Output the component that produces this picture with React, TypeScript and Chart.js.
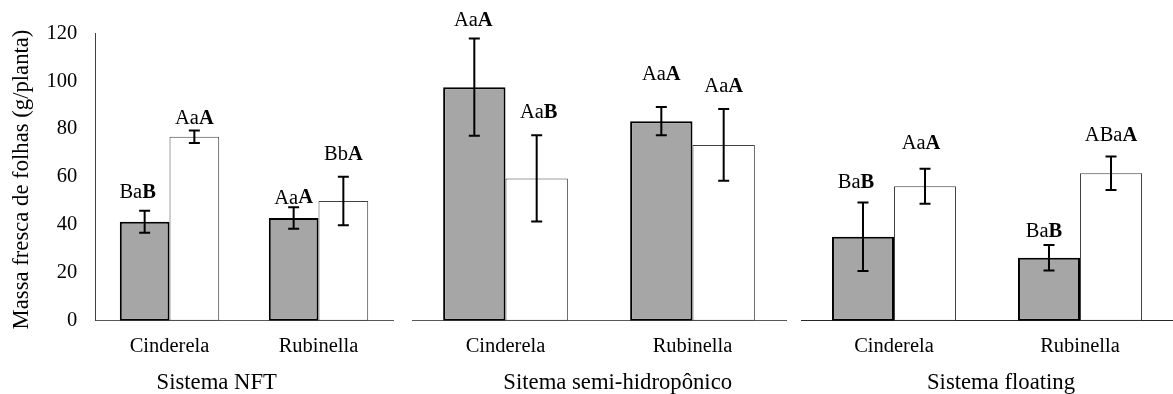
import { useEffect, useRef } from "react";
import { Chart, registerables } from "chart.js";

Chart.register(...registerables);

// Cultivars shown in every panel
const categories = ["Cinderela", "Rubinella"];
const yAxisTitle = "Massa fresca de folhas (g/planta)";
const yTicks = { min: 0, max: 120, step: 20 };

// Sistema NFT — leaf fresh mass (g/plant), mean and standard deviation
const nftTitle = "Sistema NFT";
const nftDark = [41.3, 42.9];
const nftDarkSd = [4.6, 4.5];
const nftLight = [76.8, 50.0];
const nftLightSd = [2.6, 10.1];
const nftDarkLetters = ["Ba|B", "Aa|A"];
const nftLightLetters = ["Aa|A", "Bb|A"];

// Semi-hydroponic system
const semiTitle = "Sitema semi-hidropônico";
const semiDark = [97.5, 83.3];
const semiDarkSd = [20.3, 5.9];
const semiLight = [59.4, 73.4];
const semiLightSd = [18.0, 15.0];
const semiDarkLetters = ["Aa|A", "Aa|A"];
const semiLightLetters = ["Aa|B", "Aa|A"];

// Floating system
const floatTitle = "Sistema floating";
const floatDark = [35.1, 26.3];
const floatDarkSd = [14.3, 5.3];
const floatLight = [56.1, 61.6];
const floatLightSd = [7.3, 7.0];
const floatDarkLetters = ["Ba|B", "Ba|B"];
const floatLightLetters = ["Aa|A", "ABa|A"];

type PanelData = {
  title: string;
  values: number[][];
  sds: number[][];
  letters: string[][];
};

type PanelLayout = {
  left: number;
  width: number;
  padLeft: number;
  padRight: number;
  showYAxis: boolean;
  titleX: number;
  axisColor: string;
  letterGap: number[][];
  letterShift: number[][];
};

const panels: PanelData[] = [
  {
    title: nftTitle,
    values: [nftDark, nftLight],
    sds: [nftDarkSd, nftLightSd],
    letters: [nftDarkLetters, nftLightLetters],
  },
  {
    title: semiTitle,
    values: [semiDark, semiLight],
    sds: [semiDarkSd, semiLightSd],
    letters: [semiDarkLetters, semiLightLetters],
  },
  {
    title: floatTitle,
    values: [floatDark, floatLight],
    sds: [floatDarkSd, floatLightSd],
    letters: [floatDarkLetters, floatLightLetters],
  },
];

const FONT = "'Liberation Serif', 'Times New Roman', Times, serif";
const TICK_SIZE = 20.5;
const TITLE_SIZE = 22.7;
const HEIGHT = 394;
const PLOT_TOP = 33.3;
const PLOT_BOTTOM = 320.7;
const Y_AXIS_RIGHT = 95;

const layouts: PanelLayout[] = [
  {
    left: 0,
    width: 400,
    padLeft: 0,
    padRight: 7,
    showYAxis: true,
    titleX: 216.7,
    axisColor: "#595959",
    letterGap: [[18, 9], [12, 22]],
    letterShift: [[-7, 0], [0, 0]],
  },
  {
    left: 400,
    width: 390,
    padLeft: 12,
    padRight: 4,
    showYAxis: false,
    titleX: 217.7,
    axisColor: "#595959",
    letterGap: [[18, 32], [23, 22]],
    letterShift: [[-1, 0], [2, 0]],
  },
  {
    left: 790,
    width: 383,
    padLeft: 11,
    padRight: 0,
    showYAxis: false,
    titleX: 211,
    axisColor: "#262626",
    letterGap: [[20, 13], [25, 21]],
    letterShift: [[-7, -5], [-4, 0]],
  },
];

function makeOverlay(data: PanelData, layout: PanelLayout) {
  return {
    id: "whiskersAndLetters",
    afterDatasetsDraw(chart: Chart) {
      const ctx = chart.ctx;
      const y = chart.scales.y;
      ctx.save();
      data.values.forEach((series, di) => {
        const meta = chart.getDatasetMeta(di);
        series.forEach((v, ci) => {
          const bar = meta.data[ci] as any;
          const x = bar.x;
          const sd = data.sds[di][ci];
          const yTop = y.getPixelForValue(v + sd);
          const yBot = y.getPixelForValue(v - sd);
          // error bar
          ctx.strokeStyle = "#000";
          ctx.lineWidth = 2;
          ctx.beginPath();
          ctx.moveTo(x, yTop);
          ctx.lineTo(x, yBot);
          ctx.moveTo(x - 5.5, yTop);
          ctx.lineTo(x + 5.5, yTop);
          ctx.moveTo(x - 5.5, yBot);
          ctx.lineTo(x + 5.5, yBot);
          ctx.stroke();

          // significance letters: regular part followed by a bold letter
          const [plain, bold] = data.letters[di][ci].split("|");
          const fPlain = `${TICK_SIZE}px ${FONT}`;
          const fBold = `bold ${TICK_SIZE}px ${FONT}`;
          ctx.font = fPlain;
          const w1 = ctx.measureText(plain).width;
          ctx.font = fBold;
          const w2 = ctx.measureText(bold).width;
          const startX = x - (w1 + w2) / 2 + layout.letterShift[di][ci];
          const ly = yTop - layout.letterGap[di][ci];
          ctx.fillStyle = "#000";
          ctx.textAlign = "left";
          ctx.textBaseline = "middle";
          ctx.font = fPlain;
          ctx.fillText(plain, startX, ly);
          ctx.font = fBold;
          ctx.fillText(bold, startX + w1, ly);
        });
      });
      ctx.restore();
    },
    afterDraw(chart: Chart) {
      const ctx = chart.ctx;
      ctx.save();
      ctx.fillStyle = "#000";
      ctx.font = `${TITLE_SIZE}px ${FONT}`;
      ctx.textAlign = "center";
      ctx.textBaseline = "middle";
      ctx.fillText(data.title, layout.titleX, 383);
      if (layout.showYAxis) {
        ctx.translate(21.7, 179.5);
        ctx.rotate(-Math.PI / 2);
        ctx.fillText(yAxisTitle, 0, 0);
      }
      ctx.restore();
    },
  };
}

function Panel({ data, layout }: { data: PanelData; layout: PanelLayout }) {
  const ref = useRef<HTMLCanvasElement | null>(null);

  useEffect(() => {
    if (!ref.current) return;
    const chart = new Chart(ref.current, {
      type: "bar",
      data: {
        labels: categories,
        datasets: [
          {
            data: data.values[0],
            backgroundColor: "#a6a6a6",
            borderColor: "#000000",
            borderWidth: 2,
            borderSkipped: false,
          },
          {
            data: data.values[1],
            backgroundColor: "#ffffff",
            borderColor: "#404040",
            borderWidth: 1,
            borderSkipped: false,
          },
        ],
      },
      options: {
        animation: false,
        responsive: false,
        maintainAspectRatio: false,
        events: [],
        layout: {
          padding: {
            top: PLOT_TOP,
            left: layout.padLeft,
            right: layout.padRight,
            bottom: 0,
          },
        },
        datasets: {
          bar: { categoryPercentage: 0.667, barPercentage: 1 },
        },
        plugins: {
          legend: { display: false },
          tooltip: { enabled: false },
          title: { display: false },
        },
        scales: {
          x: {
            grid: { display: false, drawTicks: false },
            border: { display: true, color: layout.axisColor, width: 1 },
            ticks: {
              color: "#000",
              font: { family: FONT, size: TICK_SIZE },
              padding: 13.7,
              maxRotation: 0,
              autoSkip: false,
            },
            afterFit: (s: any) => {
              s.height = HEIGHT - PLOT_BOTTOM;
            },
          },
          y: {
            display: layout.showYAxis,
            min: yTicks.min,
            max: yTicks.max,
            grid: { display: false, drawTicks: false },
            border: { display: true, color: "#404040", width: 1 },
            ticks: {
              stepSize: yTicks.step,
              color: "#000",
              font: { family: FONT, size: TICK_SIZE },
              padding: 17.7,
            },
            afterFit: (s: any) => {
              s.width = layout.showYAxis ? Y_AXIS_RIGHT - layout.padLeft : 0;
            },
          },
        },
      },
      plugins: [makeOverlay(data, layout)],
    });
    return () => chart.destroy();
  }, [data, layout]);

  return (
    <canvas
      ref={ref}
      width={layout.width}
      height={HEIGHT}
      style={{
        position: "absolute",
        left: layout.left,
        top: 0,
        width: layout.width,
        height: HEIGHT,
        display: "block",
      }}
    />
  );
}

export default function App() {
  return (
    <div
      style={{
        position: "fixed",
        left: 0,
        top: 0,
        width: 1173,
        height: HEIGHT,
        background: "#fff",
        overflow: "hidden",
      }}
    >
      {panels.map((p, i) => (
        <Panel key={p.title} data={p} layout={layouts[i]} />
      ))}
    </div>
  );
}
